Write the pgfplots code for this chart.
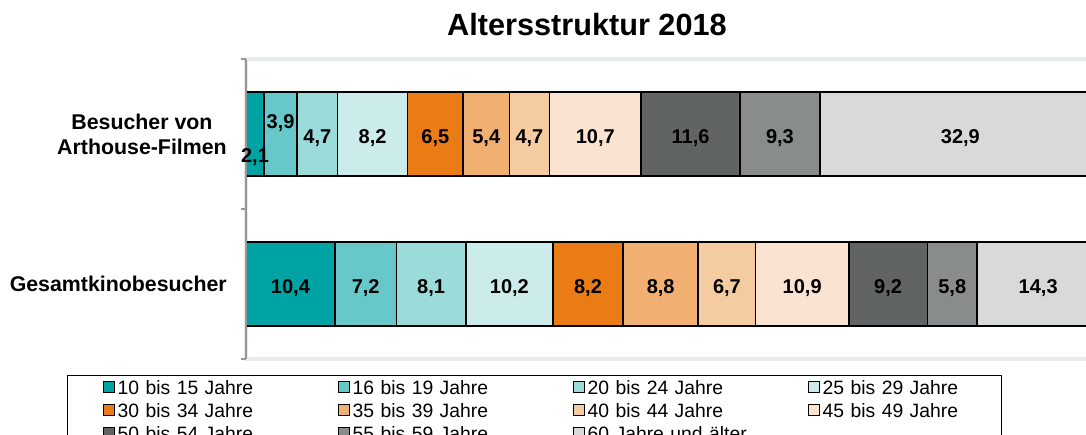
\documentclass[border=0pt]{standalone}
\usepackage{pgfplots}
\pgfplotsset{compat=1.18}
\usepackage{fontspec}
\setmainfont{Liberation Sans}

\definecolor{c1}{RGB}{0,163,163}
\definecolor{c2}{RGB}{102,200,200}
\definecolor{c3}{RGB}{155,220,218}
\definecolor{c4}{RGB}{204,236,236}
\definecolor{c5}{RGB}{234,123,21}
\definecolor{c6}{RGB}{241,176,114}
\definecolor{c7}{RGB}{245,203,161}
\definecolor{c8}{RGB}{251,227,209}
\definecolor{c9}{RGB}{96,100,101}
\definecolor{c10}{RGB}{137,140,141}
\definecolor{c11}{RGB}{216,218,218}
\definecolor{framec}{RGB}{232,237,235}
\definecolor{axgray}{RGB}{150,150,150}

\pgfplotstableread{
x y lab
1.05 0.873 2,1
4.05 1.097 3,9
8.35 1 4,7
14.8 1 8,2
22.15 1 6,5
28.1 1 5,4
33.15 1 4,7
40.85 1 10,7
52.0 1 11,6
62.45 1 9,3
83.55 1 32,9
5.2 0 10,4
14.0 0 7,2
21.65 0 8,1
30.8 0 10,2
40.0 0 8,2
48.5 0 8,8
56.25 0 6,7
65.05 0 10,9
75.1 0 9,2
82.6 0 5,8
92.65 0 14,3
}\labels

\begin{document}
\begin{tikzpicture}
\useasboundingbox (0,0) rectangle (814.5pt,326.25pt);
\clip (0,0) rectangle (814.5pt,326.25pt);
\node[anchor=base, inner sep=0pt, font=\fontsize{23}{27}\selectfont\bfseries] at (440.25pt,299.25pt) {Altersstruktur 2018};
\begin{axis}[
  at={(184.5pt,57pt)}, anchor=south west,
  scale only axis, width=641.25pt, height=225pt,
  xbar stacked, bar width=63pt,
  xmin=0, xmax=100, ymin=-0.5, ymax=1.5,
  axis line style={draw=framec, line width=2.5pt},
  xtick=\empty,
  ytick={0,1},
  yticklabels={Gesamtkinobesucher,{Besucher von\\Arthouse-Filmen}},
  yticklabel style={align=center, font=\fontsize{16}{18.75}\selectfont\bfseries, inner sep=0pt, xshift=-14.25pt},
  major tick length=0pt,
  extra y ticks={-0.5,0.5,1.5},
  extra y tick labels={},
  extra y tick style={major tick length=3.75pt, tick align=outside, tick pos=left, tick style={axgray, line width=1pt}},
  extra description/.code={\draw[axgray, line width=1.5pt] (rel axis cs:0,0) -- (rel axis cs:0,1);},
  every axis plot/.append style={draw=black, line width=1.2pt},
  legend columns=4,
  legend cell align=left,
  legend style={
     at={(-0.2094,-0.0533)}, anchor=north west,
     draw=black, line width=1.1pt,
     inner xsep=26.25pt, inner ysep=2.75pt,
     font=\fontsize{14.5}{17}\selectfont,
     column sep=0pt, row sep=2.25pt,
     nodes={inner xsep=0pt, inner ysep=1pt, text height=10.5pt, text depth=2.5pt, text width=165pt, align=left},
     /tikz/every odd column/.append style={column sep=2.25pt},
     /tikz/column 8/.append style={nodes={text width=108pt}},
  },
  legend image code/.code={\draw[#1, draw=black, line width=0.75pt] (0pt,-2.1pt) rectangle (8.25pt,6.1pt);},
]
\addplot[fill=c1] coordinates {(10.4,0) (2.1,1)};
\addplot[fill=c2] coordinates {(7.2,0) (3.9,1)};
\addplot[fill=c3] coordinates {(8.1,0) (4.7,1)};
\addplot[fill=c4] coordinates {(10.2,0) (8.2,1)};
\addplot[fill=c5] coordinates {(8.2,0) (6.5,1)};
\addplot[fill=c6] coordinates {(8.8,0) (5.4,1)};
\addplot[fill=c7] coordinates {(6.7,0) (4.7,1)};
\addplot[fill=c8] coordinates {(10.9,0) (10.7,1)};
\addplot[fill=c9] coordinates {(9.2,0) (11.6,1)};
\addplot[fill=c10] coordinates {(5.8,0) (9.3,1)};
\addplot[fill=c11] coordinates {(14.3,0) (32.9,1)};
\legend{10 bis 15 Jahre,16 bis 19 Jahre,20 bis 24 Jahre,25 bis 29 Jahre,30 bis 34 Jahre,35 bis 39 Jahre,40 bis 44 Jahre,45 bis 49 Jahre,50 bis 54 Jahre,55 bis 59 Jahre,60 Jahre und älter}
\end{axis}
\begin{axis}[
  at={(184.5pt,57pt)}, anchor=south west,
  scale only axis, width=641.25pt, height=225pt,
  xmin=0, xmax=100, ymin=-0.5, ymax=1.5,
  hide axis, clip=false,
]
\addplot[draw=none, mark=none,
  nodes near coords, point meta=explicit symbolic,
  nodes near coords style={anchor=center, font=\fontsize{15}{18}\selectfont\bfseries, text height=10.7pt, text depth=0pt, inner sep=0pt, yshift=-1.5pt}]
  table[x=x, y=y, meta=lab] {\labels};
\end{axis}
\end{tikzpicture}
\end{document}
